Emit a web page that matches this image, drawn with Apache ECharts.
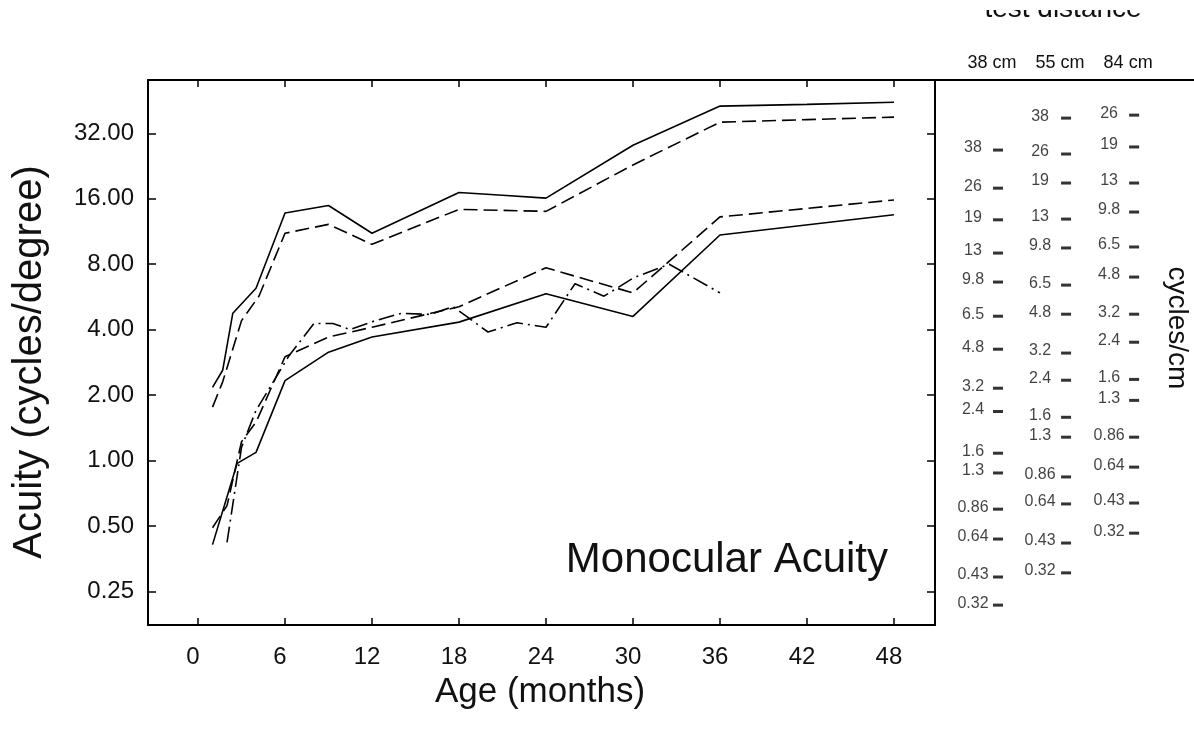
<!DOCTYPE html>
<html><head><meta charset="utf-8">
<script src="https://cdn.jsdelivr.net/npm/echarts@6/dist/echarts.min.js"></script>
<style>html,body{margin:0;padding:0;background:#fff}#c{width:1194px;height:749px}</style>
</head><body><div id="c"></div>
<script>
// ---- data ----
const xTicks = [0, 6, 12, 18, 24, 30, 36, 42, 48];
const yTicks = [0.25, 0.5, 1, 2, 4, 8, 16, 32];

const upperSolidAge = [1, 1.7, 2.4, 4, 6, 9, 12, 18, 21, 24, 30, 36, 42, 48];
const upperSolid    = [2.17, 2.6, 4.76, 6.2, 13.75, 14.9, 11.1, 17.1, 16.6, 16.1, 28.2, 42.7, 43.5, 44.5];

const upperDashedAge = [1, 1.7, 3, 4.2, 6, 9, 12, 18, 24, 30, 36, 42, 48];
const upperDashed    = [1.76, 2.3, 4.4, 5.7, 11.1, 12.2, 9.87, 14.3, 14.0, 22.9, 36.0, 37.0, 38.0];

const lowerSolidAge = [1, 2.7, 4, 6, 9, 12, 18, 24, 30, 36, 48];
const lowerSolid    = [0.41, 0.97, 1.09, 2.33, 3.15, 3.7, 4.33, 5.85, 4.6, 10.9, 13.5];

const lowerDashedAge = [1, 2, 3, 4, 6, 9, 12, 18, 24, 30, 36, 48];
const lowerDashed    = [0.49, 0.62, 1.22, 1.5, 3.0, 3.7, 4.1, 5.1, 7.7, 5.9, 13.2, 15.8];

const dashDotAge = [2, 3, 4, 6.3, 8, 9.3, 10.5, 12, 14, 16, 17.6, 20, 22, 24, 26, 28, 30, 32.5, 36];
const dashDot    = [0.42, 1.15, 1.7, 3.05, 4.27, 4.27, 4.0, 4.35, 4.75, 4.7, 5.1, 3.9, 4.3, 4.1, 6.5, 5.7, 6.9, 8.0, 5.9];

// test distance columns (cycles/cm labels and their cycles/degree positions)
const distanceHeaders = ['38 cm', '55 cm', '84 cm'];
const columnX = [1, 2, 3];
const col38Labels = ['38','26','19','13','9.8','6.5','4.8','3.2','2.4','1.6','1.3','0.86','0.64','0.43','0.32'];
const col38Pos    = [26.8, 17.9, 12.8, 9.0, 6.62, 4.61, 3.25, 2.15, 1.68, 1.08, 0.876, 0.597, 0.435, 0.291, 0.216];
const col55Labels = ['38','26','19','13','9.8','6.5','4.8','3.2','2.4','1.6','1.3','0.86','0.64','0.43','0.32'];
const col55Pos    = [37.6, 25.7, 18.9, 12.9, 9.5, 6.41, 4.71, 3.12, 2.34, 1.58, 1.28, 0.84, 0.631, 0.417, 0.304];
const col84Labels = ['26','19','13','9.8','6.5','4.8','3.2','2.4','1.6','1.3','0.86','0.64','0.43','0.32'];
const col84Pos    = [38.8, 27.7, 18.9, 13.9, 9.6, 6.98, 4.71, 3.50, 2.36, 1.89, 1.28, 0.932, 0.637, 0.463];

// ---- chart ----
const FONT = '"Liberation Sans", Arial, sans-serif';
const TXT = '#111';
const yMin = 0.175, yMax = 56.3;
const xMin = -3.45, xMax = 50.83;

const zip = (a, b) => a.map((v, i) => [v, b[i]]);
function lineSeries(age, vals, type) {
  return {
    type: 'line', xAxisIndex: 0, yAxisIndex: 0,
    data: zip(age, vals), symbol: 'none', showSymbol: false,
    lineStyle: { color: '#000', width: 1.6, type: type }, z: 3
  };
}
function colSeries(xi, labels, pos, dx) {
  return {
    type: 'scatter', xAxisIndex: 2, yAxisIndex: 2,
    data: pos.map(p => [columnX[xi], p]),
    symbol: 'rect', symbolSize: [10, 3],
    itemStyle: { color: '#000' },
    label: {
      show: true, position: 'inside', offset: [dx, -2],
      formatter: p => labels[p.dataIndex],
      color: TXT, fontSize: 16, fontFamily: FONT
    }
  };
}
const axisLineStyle = { show: true, onZero: false, lineStyle: { color: '#000', width: 2 } };
const tickStyle = { color: '#000', width: 1.5 };
const logY = { type: 'log', logBase: 2, min: yMin, max: yMax };

const chart = echarts.init(document.getElementById('c'), null, { renderer: 'canvas' });
chart.setOption({
  animation: false,
  backgroundColor: '#fff',
  grid: [
    { left: 148, right: 259, top: 80, bottom: 124 },
    { left: 935, right: 0, top: 80, bottom: 124 }
  ],
  xAxis: [
    { gridIndex: 0, type: 'value', min: xMin, max: xMax, position: 'bottom',
      axisLine: axisLineStyle,
      axisTick: { inside: true, length: 7, customValues: xTicks, lineStyle: tickStyle },
      axisLabel: { customValues: xTicks, color: TXT, fontSize: 24, fontFamily: FONT, margin: 20, padding: [0, 10, 0, 0] },
      splitLine: { show: false } },
    { gridIndex: 0, type: 'value', min: xMin, max: xMax, position: 'top',
      axisLine: axisLineStyle,
      axisTick: { inside: true, length: 7, customValues: xTicks, lineStyle: tickStyle },
      axisLabel: { show: false }, splitLine: { show: false } },
    { gridIndex: 1, type: 'value', min: 0.074, max: 3.88, position: 'top',
      axisLine: axisLineStyle, axisTick: { show: false },
      axisLabel: { customValues: columnX, formatter: v => distanceHeaders[Math.round(v) - 1] || '',
        color: TXT, fontSize: 18, fontFamily: FONT, margin: 8, padding: [0, 12, 0, 0] },
      splitLine: { show: false } }
  ],
  yAxis: [
    Object.assign({ gridIndex: 0, position: 'left',
      axisLine: axisLineStyle,
      axisTick: { inside: true, length: 8, customValues: yTicks, lineStyle: tickStyle },
      axisLabel: { customValues: yTicks, formatter: v => Number(v).toFixed(2), color: TXT, fontSize: 24, fontFamily: FONT, margin: 14 },
      splitLine: { show: false } }, logY),
    Object.assign({ gridIndex: 0, position: 'right',
      axisLine: axisLineStyle,
      axisTick: { inside: true, length: 8, customValues: yTicks, lineStyle: tickStyle },
      axisLabel: { show: false }, splitLine: { show: false } }, logY),
    Object.assign({ gridIndex: 1, show: false }, logY)
  ],
  series: [
    lineSeries(upperSolidAge, upperSolid, 'solid'),
    lineSeries(upperDashedAge, upperDashed, [14, 6]),
    lineSeries(lowerSolidAge, lowerSolid, 'solid'),
    lineSeries(lowerDashedAge, lowerDashed, [14, 6]),
    lineSeries(dashDotAge, dashDot, [16, 5, 2, 5]),
    colSeries(0, col38Labels, col38Pos, -25),
    colSeries(1, col55Labels, col55Pos, -26),
    colSeries(2, col84Labels, col84Pos, -25)
  ],
  graphic: [
    { type: 'text', x: 1063, y: 9, z: 10,
      style: { text: 'test distance', fill: TXT, font: '28px ' + FONT, align: 'center', verticalAlign: 'middle' } },
    { type: 'rect', shape: { x: 900, y: 0, width: 294, height: 10 }, z: 11, style: { fill: '#fff' } },
    { type: 'text', x: 1177, y: 328, rotation: -Math.PI / 2, z: 10,
      style: { text: 'cycles/cm', fill: TXT, font: '28px ' + FONT, align: 'center', verticalAlign: 'middle' } },
    { type: 'text', x: 30, y: 362, rotation: Math.PI / 2, z: 10,
      style: { text: 'Acuity (cycles/degree)', fill: TXT, font: '40px ' + FONT, align: 'center', verticalAlign: 'middle' } },
    { type: 'text', x: 540, y: 692, z: 10,
      style: { text: 'Age (months)', fill: TXT, font: '35px ' + FONT, align: 'center', verticalAlign: 'middle' } },
    { type: 'text', x: 888, y: 560, z: 10,
      style: { text: 'Monocular Acuity', fill: TXT, font: '42px ' + FONT, align: 'right', verticalAlign: 'middle' } }
  ]
});
</script></body></html>
